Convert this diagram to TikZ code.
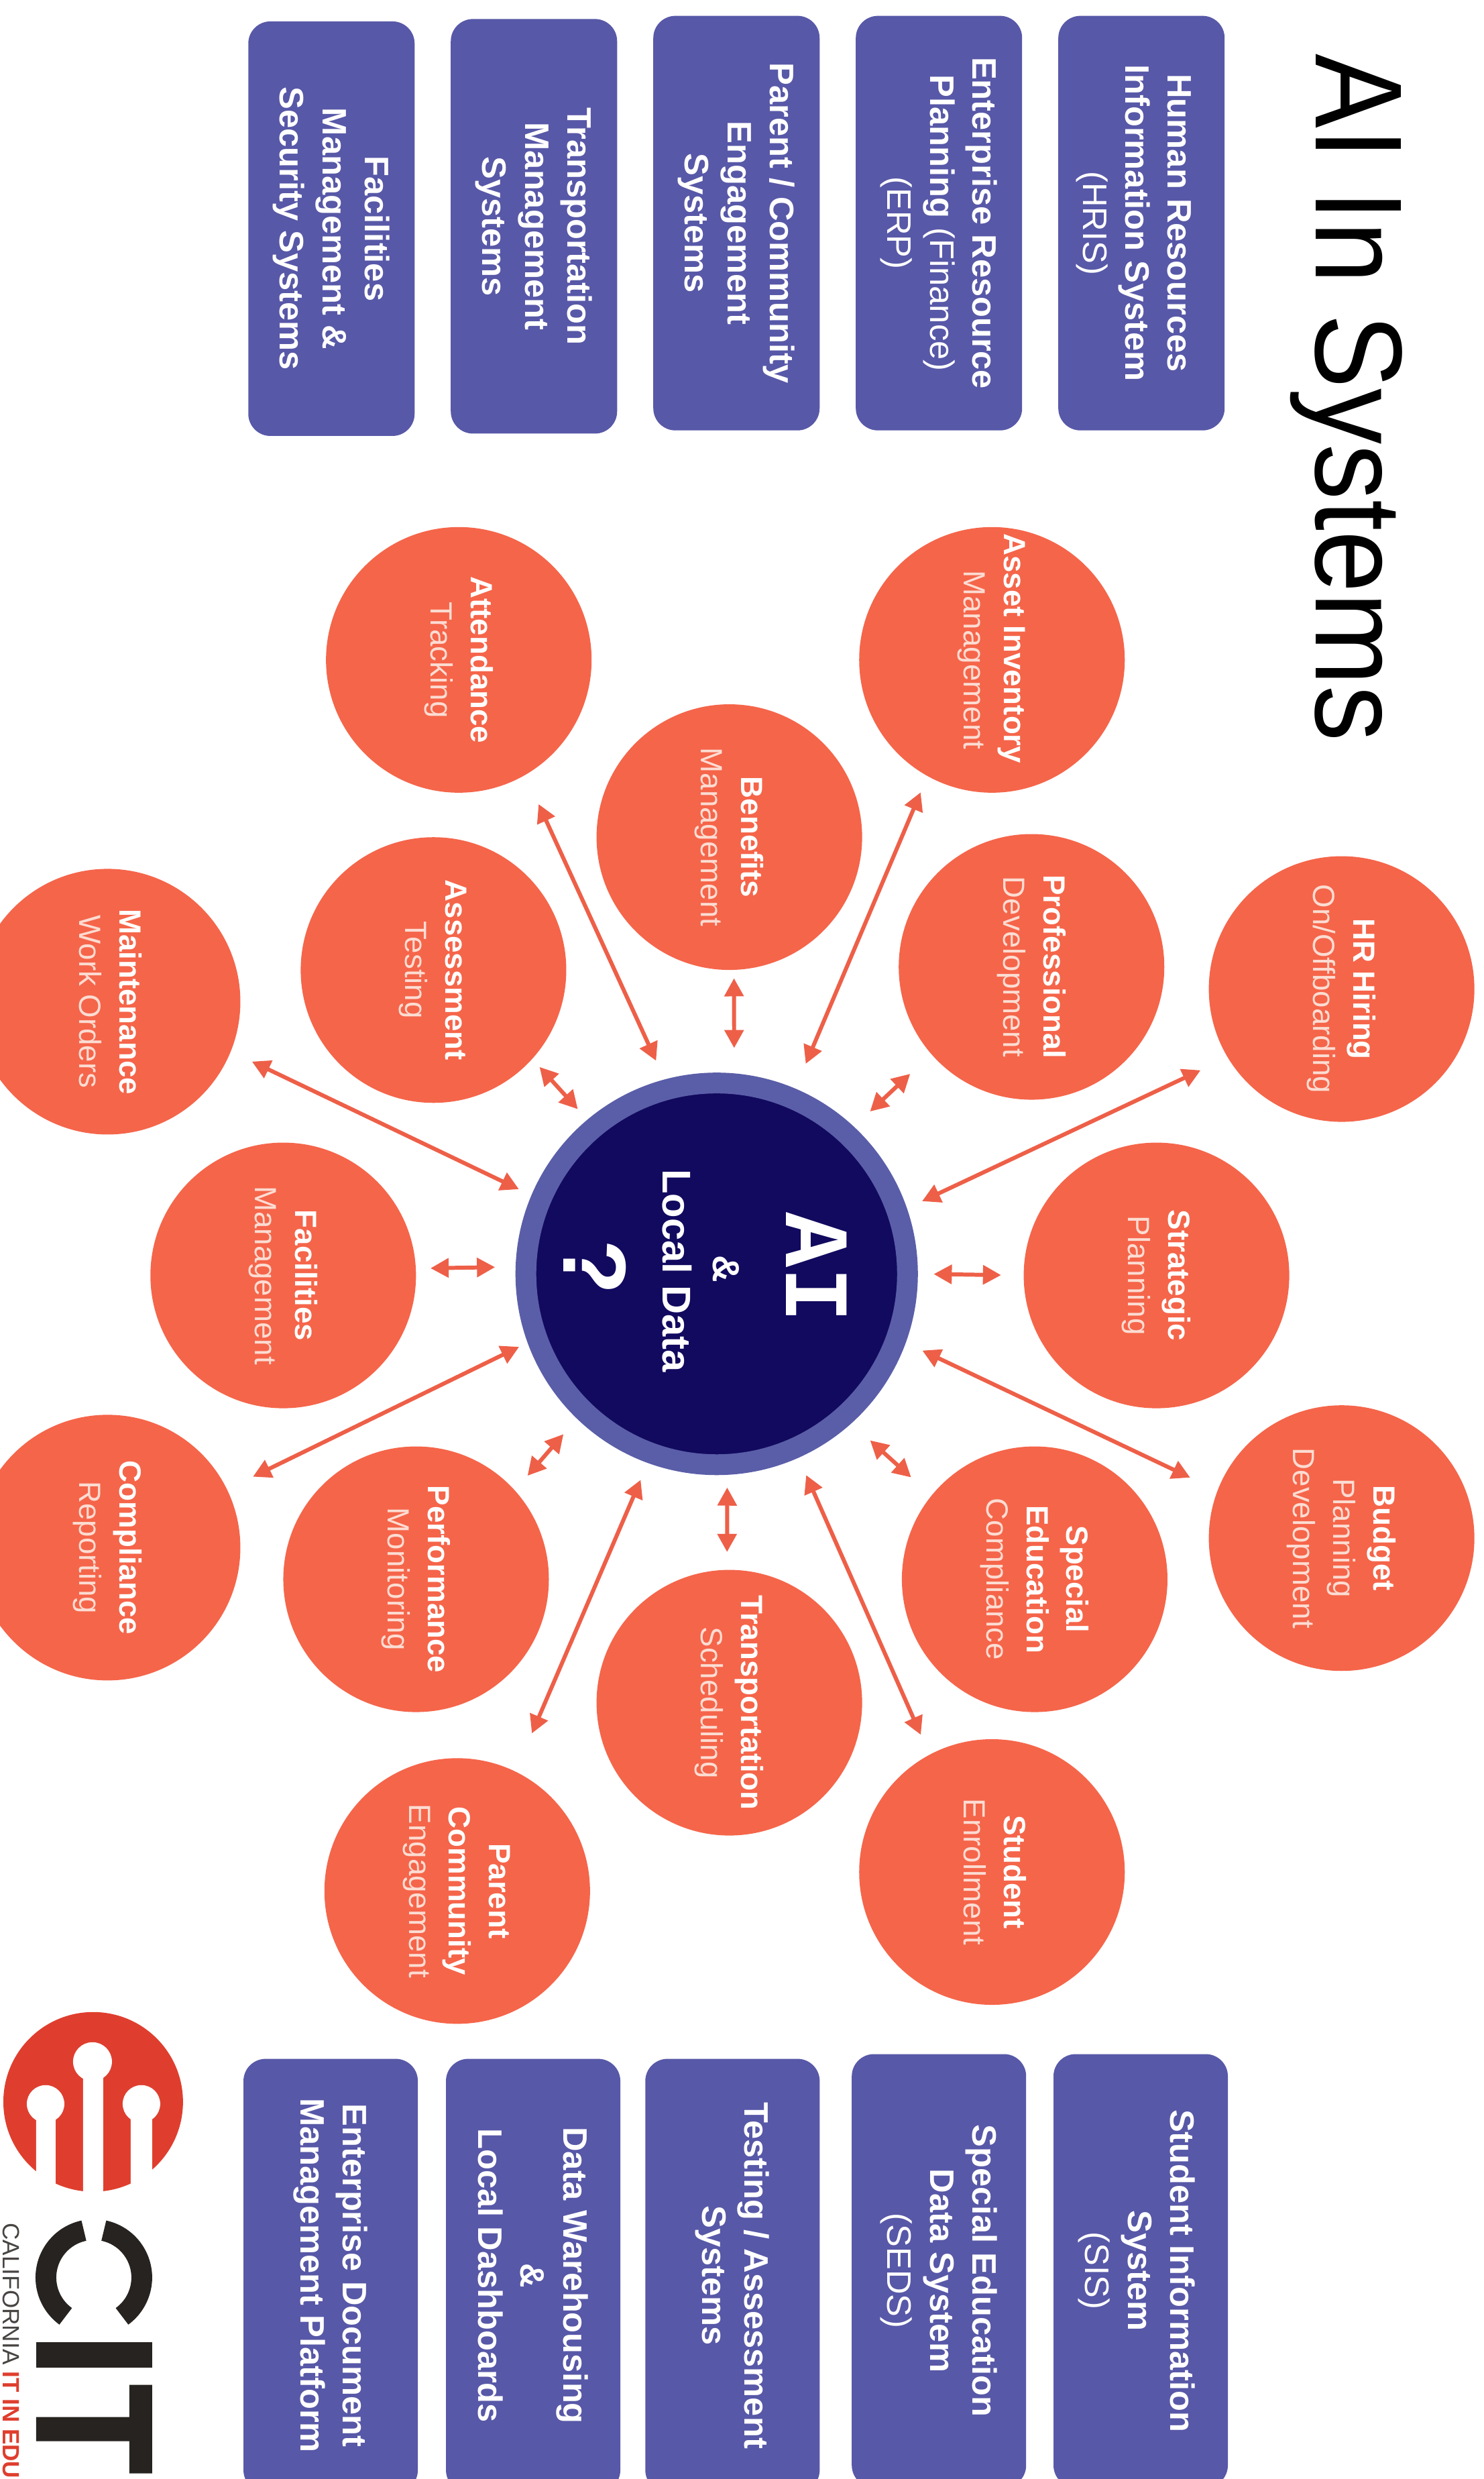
\documentclass[tikz,border=0pt]{standalone}
\usepackage{fontspec}
\usepackage{graphicx}
\usetikzlibrary{arrows.meta}
\setmainfont{Liberation Sans}
\newfontfamily\monof{Liberation Mono}
\definecolor{coral}{HTML}{F5654A}
\definecolor{linkc}{HTML}{EE5F48}
\definecolor{boxc}{HTML}{5858A8}
\definecolor{navy}{HTML}{120A5F}
\definecolor{ringc}{HTML}{5A5EA8}
\definecolor{softw}{HTML}{FCDCD2}
\definecolor{logored}{HTML}{DF3E2E}
\definecolor{logoblk}{HTML}{262320}
\newcommand\circtxt[1]{\rotatebox{-90}{\fontsize{13}{17}\selectfont\begin{tabular}{@{}c@{}}#1\end{tabular}}\hspace{0.12cm}}
\newcommand\hd[1]{\textcolor{white}{\bfseries #1}}
\newcommand\sub[1]{\textcolor{softw}{#1}}
\newcommand\lnk[5]{\draw[linkstyle,shorten <=#3*0.0236cm,shorten >=#5*0.0236cm] (#1.#2) -- (ctr.#4);}
\tikzset{
 spoke/.style={circle,fill=coral,minimum size=3.96cm,inner sep=0pt},
 sysbox/.style={rectangle,rounded corners=0.33cm,fill=boxc,inner sep=0pt,rotate=-90,minimum height=2.48cm,
   minimum width=6.18cm,text=white,align=center,font=\fontsize{14.4}{18}\selectfont\bfseries},
 sysboxb/.style={sysbox,minimum height=2.6cm,minimum width=6.46cm},
 linkstyle/.style={draw=linkc,line width=1.7pt,{Triangle[length=0.27cm,width=0.28cm]}-{Triangle[length=0.27cm,width=0.28cm]}},
 ctrtxt/.style={rotate=-90,text=white,inner sep=0pt}
}
\begin{document}
\begin{tikzpicture}[x=0.023593cm,y=-0.023593cm]
\path[use as bounding box] (0,0) rectangle (938,1566.6);
\clip (0,0) rectangle (938,1566.6);
% title
\node[rotate=-90,anchor=base west,inner sep=0pt,font=\fontsize{50}{60}\selectfont] (title) at (832,34) {\scalebox{0.945}[1.05]{AI In Systems}};
% top boxes
\node[sysbox] (hris) at (721.5,141) {\rule{0pt}{0.58cm}Human Resources\\Information System\\\mdseries (HRIS)};
\node[sysbox] (erp) at (593.5,141) {Enterprise Resource\\Planning {\mdseries (Finance)}\\\mdseries (ERP)};
\node[sysbox] (pces) at (465.5,141) {Parent / Community\\Engagement\\Systems};
\node[sysbox] (tms) at (337.5,143) {Transportation\\Management\\Systems};
\node[sysbox] (fms) at (209.5,144.5) {Facilities\\Management \&\\Security Systems};
% bottom boxes
\node[sysboxb] (sis) at (721,1435) {\rule{0pt}{0.48cm}Student Information\\System\\\mdseries (SIS)};
\node[sysboxb] (seds) at (593.5,1435) {Special Education\\Data System\\\mdseries (SEDS)};
\node[sysboxb] (test) at (463,1438) {Testing / Assessment\\Systems};
\node[sysboxb] (dw) at (337,1438) {Data Warehousing\\\&\\Local Dashboards};
\node[sysboxb] (edm) at (209,1438) {Enterprise Document\\Management Platform};
% hub
\node[circle,fill=navy,draw=ringc,line width=0.31cm,minimum size=5.69cm,inner sep=0pt,outer sep=0.155cm] (ctr) at (453,805) {};
\node[ctrtxt,font=\monof\bfseries\fontsize{39}{39}\selectfont] (ai) at (516,801) {AI};
\node[ctrtxt,font=\bfseries\fontsize{16}{16}\selectfont] (amp) at (459,802) {\&};
\node[ctrtxt,font=\bfseries\fontsize{17}{17}\selectfont] (ld) at (428,803) {Local Data};
\node[ctrtxt,font=\bfseries\fontsize{38}{38}\selectfont] (qm) at (376,801) {?};
% spokes
\node[spoke] (hr) at (848,625) {\circtxt{\hd{HR Hiring}\\\sub{On/Offboarding}}};
\node[spoke] (strat) at (731,806) {\circtxt{\hd{Strategic}\\\sub{Planning}}};
\node[spoke] (budget) at (848,972) {\circtxt{\hd{Budget}\\\sub{Planning}\\\sub{Development}}};
\node[spoke] (asset) at (627,417) {\circtxt{\hd{Asset Inventory}\rule{0.34cm}{0pt}\\\sub{Management}}};
\node[spoke] (prof) at (652,611) {\circtxt{\hd{Professional}\\\sub{Development}}};
\node[spoke] (sped) at (654,998) {\circtxt{\hd{Special}\\\hd{Education}\\\sub{Compliance}}};
\node[spoke] (stud) at (627,1183) {\circtxt{\hd{Student}\\\sub{Enrollment}}};
\node[spoke] (ben) at (461,529) {\circtxt{\hd{Benefits}\\\sub{Management}}};
\node[spoke] (trans) at (461,1076) {\circtxt{\hd{Transportation}\\\sub{Scheduling}}};
\node[spoke] (att) at (290,417) {\circtxt{\hd{Attendance}\\\sub{Tracking}}};
\node[spoke] (assess) at (274,613) {\circtxt{\hd{Assessment}\\\sub{Testing}}};
\node[spoke] (perf) at (263,998) {\circtxt{\hd{Performance}\\\sub{Monitoring}}};
\node[spoke] (par) at (289,1195) {\circtxt{\hd{Parent}\\\hd{Community}\\\sub{Engagement}}};
\node[spoke] (fac) at (179,806) {\circtxt{\hd{Facilities}\\\sub{Management}}};
\node[spoke] (maint) at (68,633) {\circtxt{\hd{Maintenance}\\\sub{Work Orders}}};
\node[spoke] (comp) at (68,978) {\circtxt{\hd{Compliance}\\\sub{Reporting}}};
% connectors
\lnk{hr}{211}{18.7}{19.1}{10.6}
\lnk{strat}{180}{14}{0}{10}
\lnk{budget}{159}{18.9}{-20.3}{11.6}
\lnk{asset}{241}{10.9}{67.5}{17}
\lnk{prof}{221.8}{18}{47.6}{14}
\lnk{sped}{141.4}{17}{-48.4}{16}
\lnk{stud}{118.1}{13.5}{-66.2}{12}
\lnk{ben}{-88}{5}{85.6}{16}
\lnk{trans}{91.8}{11}{-87.8}{8}
\lnk{att}{-60}{20}{105.7}{13}
\lnk{assess}{-42.3}{6.6}{130.8}{9}
\lnk{perf}{42.5}{12}{226.7}{13}
\lnk{par}{64}{26}{-110.3}{11.6}
\lnk{fac}{3}{9}{178.4}{13}
\lnk{maint}{-22.7}{14.6}{157}{8.8}
\lnk{comp}{26.8}{18}{200.2}{6}
% logo
\begin{scope}[x=0.01cm,y=0.01cm,yshift=-36.96cm]
 \fill[logored] (139,563) circle (134);
 \fill[white] (138,623) circle (29) (68,560) circle (28) (211,560) circle (28);
 \fill[white] (124,420) rectangle (154,623) (54,420) rectangle (83,560) (195,420) rectangle (227,560);
 \draw[logoblk,line width=0.31cm] ([shift={(78:71.5)}]140,301) arc (78:-54:71.5);
 \draw[logoblk,line width=0.31cm] ([shift={(102:71.5)}]140,301) arc (102:234:71.5);
 \fill[logoblk] (54,167) rectangle (227,205);
 \fill[logoblk] (193,9) rectangle (227,141) (54,57) rectangle (193,93);
\end{scope}
\node[rotate=-90,anchor=base west,inner sep=0pt,font=\fontsize{10}{12}\selectfont,text=logoblk!85] (tag) at (2.1,1404.6) {CALIFORNIA \textcolor{logored}{\bfseries IT IN EDU}};
\end{tikzpicture}
\end{document}
